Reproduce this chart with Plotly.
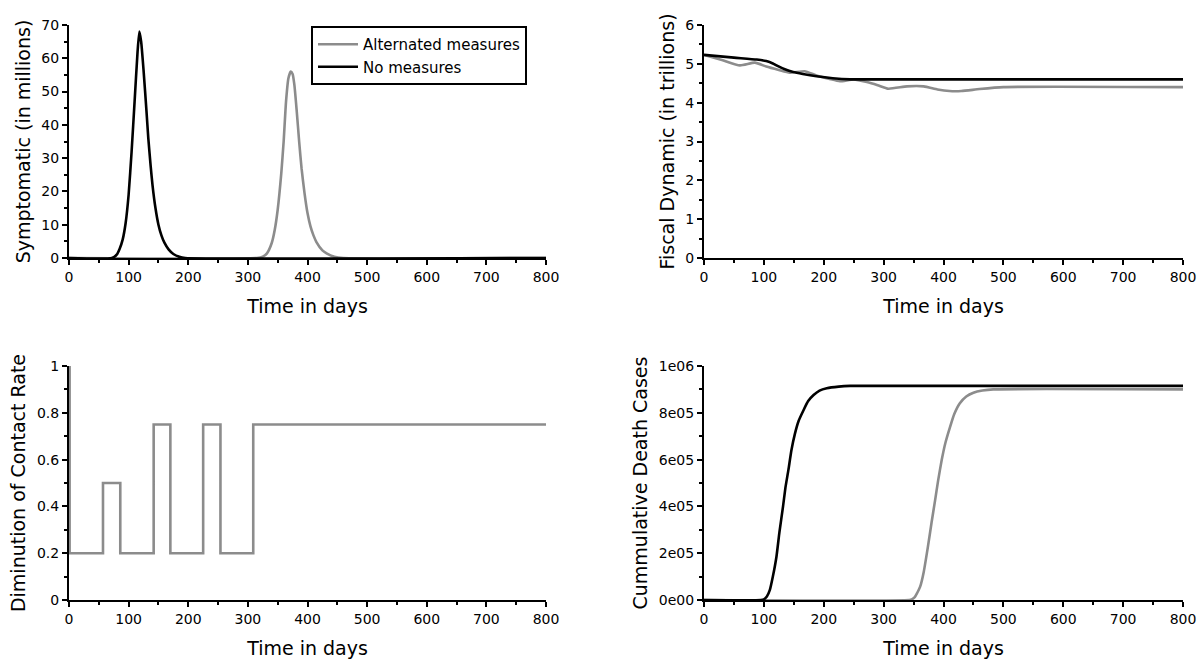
import plotly.graph_objects as go

# ---------------- data ----------------
# Symptomatic (in millions)
symp_alt_days = [0, 315, 325, 332, 340, 345, 350, 356, 360, 364, 368, 372, 375, 378, 382, 386, 390, 395, 400, 405, 410, 415, 425, 432, 445, 460, 800]
symp_alt_vals = [0, 0, 0.4, 1.4, 4.5, 8.4, 14.5, 25.4, 35, 47, 54, 56, 55.3, 52, 44, 35, 27, 19.5, 13.5, 9.5, 6.8, 4.8, 2.3, 1.4, 0.4, 0, 0]
symp_no_days = [0, 72, 80, 85, 90, 95, 100, 105, 110, 115, 118, 121, 125, 130, 133, 137, 140, 145, 150, 155, 160, 167, 175, 185, 195, 800]
symp_no_vals = [0, 0, 1, 2.8, 5.5, 10.5, 19, 32, 47, 62, 68, 65, 56.5, 44, 36, 27.5, 22, 15, 10, 6.8, 4.6, 2.6, 1.2, 0.35, 0, 0]

# Fiscal dynamic (in trillions)
fisc_alt_days = [0, 30, 60, 85, 104, 125, 143, 168, 188, 210, 227, 250, 272, 290, 308, 339, 367, 390, 410, 430, 460, 500, 800]
fisc_alt_vals = [5.23, 5.10, 4.96, 5.03, 4.93, 4.84, 4.77, 4.81, 4.70, 4.61, 4.55, 4.60, 4.53, 4.45, 4.36, 4.42, 4.42, 4.34, 4.30, 4.30, 4.35, 4.40, 4.40]
fisc_no_days = [0, 50, 88, 104, 115, 121, 135, 149, 165, 188, 215, 244, 800]
fisc_no_vals = [5.23, 5.16, 5.11, 5.07, 5.01, 4.96, 4.86, 4.79, 4.74, 4.68, 4.63, 4.60, 4.60]

# Diminution of contact rate (step function)
contact_days = [0, 1, 57, 86, 142, 170, 225, 254, 309, 800]
contact_vals = [1, 0.2, 0.5, 0.2, 0.75, 0.2, 0.75, 0.2, 0.75, 0.75]

# Cumulative death cases
death_alt_days = [0, 343, 347, 352, 356, 361, 367, 374, 380, 386, 391, 397, 403, 411, 418, 427, 438, 450, 465, 483, 800]
death_alt_vals = [0, 0, 3e3, 1.2e4, 3e4, 5.7e4, 1.2e5, 2.28e5, 3.3e5, 4.27e5, 5.1e5, 5.98e5, 6.7e5, 7.4e5, 7.95e5, 8.4e5, 8.7e5, 8.86e5, 8.95e5, 9.0e5, 9.0e5]
death_no_days = [0, 95, 100, 105, 110, 115, 121, 126, 132, 136, 141, 146, 152, 158, 166, 174, 183, 193, 205, 225, 244, 800]
death_no_vals = [0, 0, 3e3, 1.5e4, 4.3e4, 1.0e5, 1.85e5, 2.9e5, 4.0e5, 4.8e5, 5.56e5, 6.4e5, 7.12e5, 7.65e5, 8.1e5, 8.5e5, 8.76e5, 8.95e5, 9.05e5, 9.12e5, 9.15e5, 9.15e5]

series_names = ["Alternated measures", "No measures"]
GREY = "#8c8c8c"
BLACK = "#000000"
FONT = "DejaVu Sans"

W, H = 1201, 662
def px_x(a, b):
    return [a / W, b / W]
def px_y(top, bottom):
    return [1 - bottom / H, 1 - top / H]

fig = go.Figure()

lw = 2.6
sm = 0.5
# top-left
fig.add_trace(go.Scatter(x=symp_alt_days, y=symp_alt_vals, mode="lines", line=dict(color=GREY, width=lw, shape="spline", smoothing=sm),
                         name=series_names[0], xaxis="x", yaxis="y", showlegend=True))
fig.add_trace(go.Scatter(x=symp_no_days, y=symp_no_vals, mode="lines", line=dict(color=BLACK, width=lw, shape="spline", smoothing=sm),
                         name=series_names[1], xaxis="x", yaxis="y", showlegend=True))
# top-right
fig.add_trace(go.Scatter(x=fisc_alt_days, y=fisc_alt_vals, mode="lines", line=dict(color=GREY, width=lw, shape="spline", smoothing=sm),
                         name=series_names[0], xaxis="x2", yaxis="y2", showlegend=False))
fig.add_trace(go.Scatter(x=fisc_no_days, y=fisc_no_vals, mode="lines", line=dict(color=BLACK, width=lw, shape="spline", smoothing=sm),
                         name=series_names[1], xaxis="x2", yaxis="y2", showlegend=False))
# bottom-left
fig.add_trace(go.Scatter(x=contact_days, y=contact_vals, mode="lines", line=dict(color=GREY, width=lw, shape="hv"),
                         name=series_names[0], xaxis="x3", yaxis="y3", showlegend=False))
# bottom-right
fig.add_trace(go.Scatter(x=death_alt_days, y=death_alt_vals, mode="lines", line=dict(color=GREY, width=lw, shape="spline", smoothing=sm),
                         name=series_names[0], xaxis="x4", yaxis="y4", showlegend=False))
fig.add_trace(go.Scatter(x=death_no_days, y=death_no_vals, mode="lines", line=dict(color=BLACK, width=lw, shape="spline", smoothing=sm),
                         name=series_names[1], xaxis="x4", yaxis="y4", showlegend=False))

def xaxis(domain, anchor):
    return dict(domain=domain, anchor=anchor, range=[0, 800], tickmode="linear", tick0=0, dtick=100,
                showline=True, linecolor="black", linewidth=2, ticks="outside", ticklen=5, tickwidth=2,
                tickcolor="black", minor=dict(ticks="outside", ticklen=3, tickwidth=1.5, dtick=50, tickcolor="black"),
                showgrid=False, zeroline=False, tickfont=dict(family=FONT, size=14, color="black"),
                title=dict(text="Time in days", font=dict(family=FONT, size=19, color="black"), standoff=16),
                automargin=False, fixedrange=True)

def yaxis(domain, anchor, rng, dtick, minor, title, **kw):
    d = dict(domain=domain, anchor=anchor, range=rng, tickmode="linear", tick0=0, dtick=dtick,
             showline=True, linecolor="black", linewidth=2, ticks="outside", ticklen=5, tickwidth=2,
             tickcolor="black", minor=dict(ticks="outside", ticklen=3, tickwidth=1.5, dtick=minor, tickcolor="black"),
             showgrid=False, zeroline=False, tickfont=dict(family=FONT, size=14, color="black"),
             title=dict(text=title, font=dict(family=FONT, size=19, color="black"), standoff=6),
             automargin=False, fixedrange=True)
    d.update(kw)
    return d

xl = px_x(69, 546)
xr = px_x(704, 1183)
yt = px_y(25, 258)
yb = px_y(366, 600)

death_ticks = [0, 2e5, 4e5, 6e5, 8e5, 1e6]
death_ticklabels = ["0e00", "2e05", "4e05", "6e05", "8e05", "1e06"]

fig.update_layout(
    width=W, height=H,
    margin=dict(l=0, r=0, t=0, b=0),
    paper_bgcolor="white", plot_bgcolor="white",
    font=dict(family=FONT, color="black"),
    xaxis=xaxis(xl, "y"),
    yaxis=yaxis(yt, "x", [0, 70], 10, 5, "Symptomatic (in millions)"),
    xaxis2=xaxis(xr, "y2"),
    yaxis2=yaxis(yt, "x2", [0, 6], 1, 0.5, "Fiscal Dynamic (in trillions)"),
    xaxis3=xaxis(xl, "y3"),
    yaxis3=yaxis(yb, "x3", [0, 1], 0.2, 0.1, "Diminution of Contact Rate"),
    xaxis4=xaxis(xr, "y4"),
    yaxis4=yaxis(yb, "x4", [0, 1e6], 2e5, 1e5, "Cummulative Death Cases",
                 tickmode="array", tickvals=death_ticks, ticktext=death_ticklabels),
    legend=dict(x=311 / W, y=1 - 26 / H, xanchor="left", yanchor="top",
                bordercolor="black", borderwidth=2, bgcolor="white",
                font=dict(family=FONT, size=15, color="black"),
                tracegroupgap=0, itemwidth=40),
    showlegend=True,
)
fig.layout.yaxis4.minor.dtick = 1e5
fig.layout.yaxis4.minor.tick0 = 0

fig.write_html("out.html", config={"displayModeBar": False},
               post_script="document.body.style.margin='0px';document.body.style.padding='0px';")
